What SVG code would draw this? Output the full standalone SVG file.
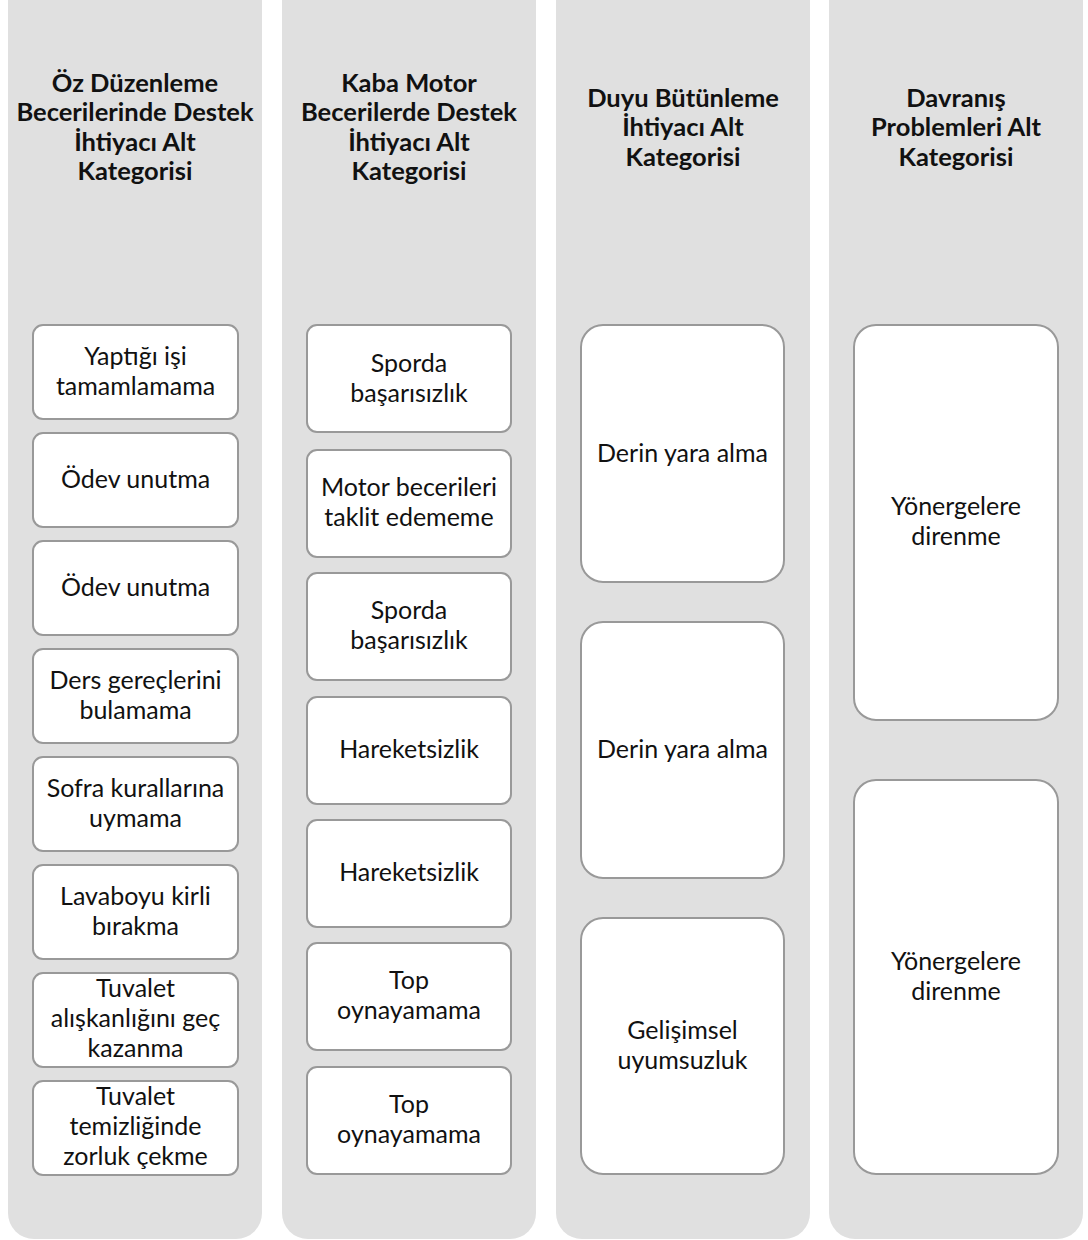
<svg xmlns="http://www.w3.org/2000/svg" width="1088" height="1240" viewBox="0 0 1088 1240">
<style>
.col{fill:#e0e0e0}
.box{fill:#ffffff;stroke:#999999;stroke-width:2}
.h{font-family:Lato,"Liberation Sans",sans-serif;font-weight:bold;font-size:25.5px;fill:#111111;text-anchor:middle}
.t{font-family:Lato,"Liberation Sans",sans-serif;font-size:25px;fill:#111111;text-anchor:middle}
</style>
<rect width="1088" height="1240" fill="#ffffff"/>
<g id="columns">
<rect class="col" x="8" y="-40" width="254" height="1279" rx="26"/>
<rect class="col" x="282" y="-40" width="254" height="1279" rx="26"/>
<rect class="col" x="556" y="-40" width="254" height="1279" rx="26"/>
<rect class="col" x="829" y="-40" width="254" height="1279" rx="26"/>
</g>
<g id="header1"><text class="h" x="135" y="91.5">Öz Düzenleme</text><text class="h" x="135" y="121">Becerilerinde Destek</text><text class="h" x="135" y="150.5">İhtiyacı Alt</text><text class="h" x="135" y="180">Kategorisi</text></g>
<g id="header2"><text class="h" x="409" y="91.5">Kaba Motor</text><text class="h" x="409" y="121">Becerilerde Destek</text><text class="h" x="409" y="150.5">İhtiyacı Alt</text><text class="h" x="409" y="180">Kategorisi</text></g>
<g id="header3"><text class="h" x="683" y="106.5">Duyu Bütünleme</text><text class="h" x="683" y="136">İhtiyacı Alt</text><text class="h" x="683" y="165.5">Kategorisi</text></g>
<g id="header4"><text class="h" x="956" y="106.5">Davranış</text><text class="h" x="956" y="136">Problemleri Alt</text><text class="h" x="956" y="165.5">Kategorisi</text></g>

<g id="c1n1"><rect class="box" x="33" y="325" width="205" height="94" rx="10"/><text class="t" x="135.5" y="365">Yaptığı işi</text><text class="t" x="135.5" y="395">tamamlamama</text></g>
<g id="c1n2"><rect class="box" x="33" y="433" width="205" height="94" rx="10"/><text class="t" x="135.5" y="488">Ödev unutma</text></g>
<g id="c1n3"><rect class="box" x="33" y="541" width="205" height="94" rx="10"/><text class="t" x="135.5" y="596">Ödev unutma</text></g>
<g id="c1n4"><rect class="box" x="33" y="649" width="205" height="94" rx="10"/><text class="t" x="135.5" y="689">Ders gereçlerini</text><text class="t" x="135.5" y="719">bulamama</text></g>
<g id="c1n5"><rect class="box" x="33" y="757" width="205" height="94" rx="10"/><text class="t" x="135.5" y="797">Sofra kurallarına</text><text class="t" x="135.5" y="827">uymama</text></g>
<g id="c1n6"><rect class="box" x="33" y="865" width="205" height="94" rx="10"/><text class="t" x="135.5" y="905">Lavaboyu kirli</text><text class="t" x="135.5" y="935">bırakma</text></g>
<g id="c1n7"><rect class="box" x="33" y="973" width="205" height="94" rx="10"/><text class="t" x="135.5" y="997">Tuvalet</text><text class="t" x="135.5" y="1027">alışkanlığını geç</text><text class="t" x="135.5" y="1057">kazanma</text></g>
<g id="c1n8"><rect class="box" x="33" y="1081" width="205" height="94" rx="10"/><text class="t" x="135.5" y="1105">Tuvalet</text><text class="t" x="135.5" y="1135">temizliğinde</text><text class="t" x="135.5" y="1165">zorluk çekme</text></g>

<g id="c2n1"><rect class="box" x="307" y="325" width="204" height="107" rx="10"/><text class="t" x="409" y="372">Sporda</text><text class="t" x="409" y="402">başarısızlık</text></g>
<g id="c2n2"><rect class="box" x="307" y="450" width="204" height="107" rx="10"/><text class="t" x="409" y="496">Motor becerileri</text><text class="t" x="409" y="526">taklit edememe</text></g>
<g id="c2n3"><rect class="box" x="307" y="573" width="204" height="107" rx="10"/><text class="t" x="409" y="619">Sporda</text><text class="t" x="409" y="649">başarısızlık</text></g>
<g id="c2n4"><rect class="box" x="307" y="697" width="204" height="107" rx="10"/><text class="t" x="409" y="758">Hareketsizlik</text></g>
<g id="c2n5"><rect class="box" x="307" y="820" width="204" height="107" rx="10"/><text class="t" x="409" y="881">Hareketsizlik</text></g>
<g id="c2n6"><rect class="box" x="307" y="943" width="204" height="107" rx="10"/><text class="t" x="409" y="989">Top</text><text class="t" x="409" y="1019">oynayamama</text></g>
<g id="c2n7"><rect class="box" x="307" y="1067" width="204" height="107" rx="10"/><text class="t" x="409" y="1113">Top</text><text class="t" x="409" y="1143">oynayamama</text></g>

<g id="c3n1"><rect class="box" x="581" y="325" width="203" height="257" rx="22"/><text class="t" x="682.5" y="462">Derin yara alma</text></g>
<g id="c3n2"><rect class="box" x="581" y="622" width="203" height="256" rx="22"/><text class="t" x="682.5" y="758">Derin yara alma</text></g>
<g id="c3n3"><rect class="box" x="581" y="918" width="203" height="256" rx="22"/><text class="t" x="682.5" y="1039">Gelişimsel</text><text class="t" x="682.5" y="1069">uyumsuzluk</text></g>

<g id="c4n1"><rect class="box" x="854" y="325" width="204" height="395" rx="22"/><text class="t" x="956" y="515">Yönergelere</text><text class="t" x="956" y="545">direnme</text></g>
<g id="c4n2"><rect class="box" x="854" y="780" width="204" height="394" rx="22"/><text class="t" x="956" y="970">Yönergelere</text><text class="t" x="956" y="1000">direnme</text></g>
<g id="connectors"/>
</svg>
